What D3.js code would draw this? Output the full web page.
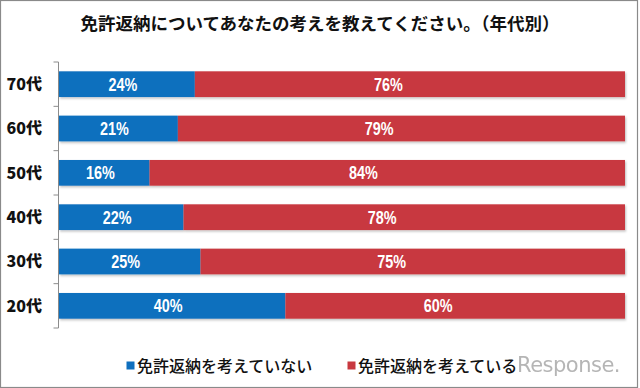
<!DOCTYPE html>
<html><head><meta charset="utf-8">
<script src="https://cdn.jsdelivr.net/npm/d3@7"></script>
<style>
html,body{margin:0;padding:0;background:#fff;}
svg{display:block;}
</style></head>
<body>
<script>
const title = "免許返納についてあなたの考えを教えてください。（年代別）";
const categories = ["70代","60代","50代","40代","30代","20代"];
const notConsidering = [24,21,16,22,25,40];
const considering = [76,79,84,78,75,60];
const seriesNames = ["免許返納を考えていない","免許返納を考えている"];
const colors = ["#0f6fbe","#c8383f"];

const W = 640, H = 388;
const svg = d3.select("body").append("svg").attr("width", W).attr("height", H);

const defs = svg.append("defs");
const f = defs.append("filter").attr("id","sh").attr("x","-5%").attr("y","-30%").attr("width","110%").attr("height","170%");
f.append("feDropShadow").attr("dx",1).attr("dy",1.5).attr("stdDeviation",0.8).attr("flood-color","#000").attr("flood-opacity",0.25);

svg.append("rect").attr("x",0.5).attr("y",0.5).attr("width",W-3).attr("height",H-1)
  .attr("fill","#fff").attr("stroke","#8a8a8a").attr("stroke-width",1.2);

svg.append("text").attr("x",320).attr("y",30).attr("text-anchor","middle")
  .attr("font-family","'Noto Sans CJK JP', sans-serif").attr("font-weight",700)
  .attr("font-size",17.5).attr("fill","#111").text(title);

const x = d3.scaleLinear().domain([0,100]).range([59,625]);
const y = d3.scaleBand().domain(categories).range([62,328]).paddingInner(0.42).paddingOuter(0.21);

// axis
const yAxis = d3.axisLeft(y).tickSize(0).tickFormat("");
const ag = svg.append("g").attr("transform","translate(58.5,0)").call(yAxis);
ag.select(".domain").attr("stroke","#8c8c8c").attr("d","M0,62V328");
const bounds = categories.map(c => y(c) - y.step()*y.paddingInner()/2);
bounds[0] = 62; bounds.push(328);
ag.selectAll(".bt").data(bounds).join("line").attr("class","bt")
  .attr("x1",-5).attr("x2",0).attr("y1",d=>d).attr("y2",d=>d).attr("stroke","#8c8c8c");

// category labels
svg.selectAll(".cat").data(categories).join("text").attr("class","cat")
  .attr("x",42).attr("y",c=>y(c)+y.bandwidth()/2).attr("dy","0.36em")
  .attr("text-anchor","end").attr("font-family","'Noto Sans CJK JP', sans-serif")
  .attr("font-weight",900).attr("font-size",16).attr("fill","#111").text(c=>c);

const rows = categories.map((c,i)=>({c, a:notConsidering[i], b:considering[i]}));
const g = svg.append("g");
rows.forEach(r=>{
  const yy = y(r.c), h = y.bandwidth();
  const grp = g.append("g").attr("filter","url(#sh)");
  grp.append("rect").attr("x",x(0)).attr("y",yy).attr("width",x(r.a)-x(0)).attr("height",h).attr("fill",colors[0]);
  grp.append("rect").attr("x",x(r.a)).attr("y",yy).attr("width",x(r.a+r.b)-x(r.a)).attr("height",h).attr("fill",colors[1]);
  const lab = (xx,v)=> g.append("text")
    .attr("transform",`translate(${xx},${yy+h/2}) scale(0.8,1)`).attr("dy","0.36em")
    .attr("text-anchor","middle").attr("font-family","'Liberation Sans','Arimo',sans-serif")
    .attr("font-weight",700).attr("font-size",18).attr("fill","#fff").text(v+"%");
  lab((x(0)+x(r.a))/2 - 4, r.a);
  lab(x(r.a) + (x(r.a+r.b)-x(r.a))*0.45, r.b);
});

// legend
const leg = [{x:126.5, tx:137},{x:347.5, tx:358}];
leg.forEach((l,i)=>{
  svg.append("rect").attr("x",l.x).attr("y",361.5).attr("width",8).attr("height",8).attr("fill",colors[i]);
  svg.append("text").attr("x",l.tx).attr("y",366).attr("dy","0.36em")
    .attr("font-family","'Noto Sans CJK JP', sans-serif").attr("font-weight",500)
    .attr("font-size",16).attr("fill","#111").text(seriesNames[i]);
});

// watermark
svg.append("text").attr("x",517).attr("y",372).attr("font-family","'DejaVu Sans', sans-serif")
  .attr("font-size",21).attr("fill","#a9a9a9").attr("opacity",0.85).attr("letter-spacing",-0.5).text("Response.");
</script>
</body></html>
